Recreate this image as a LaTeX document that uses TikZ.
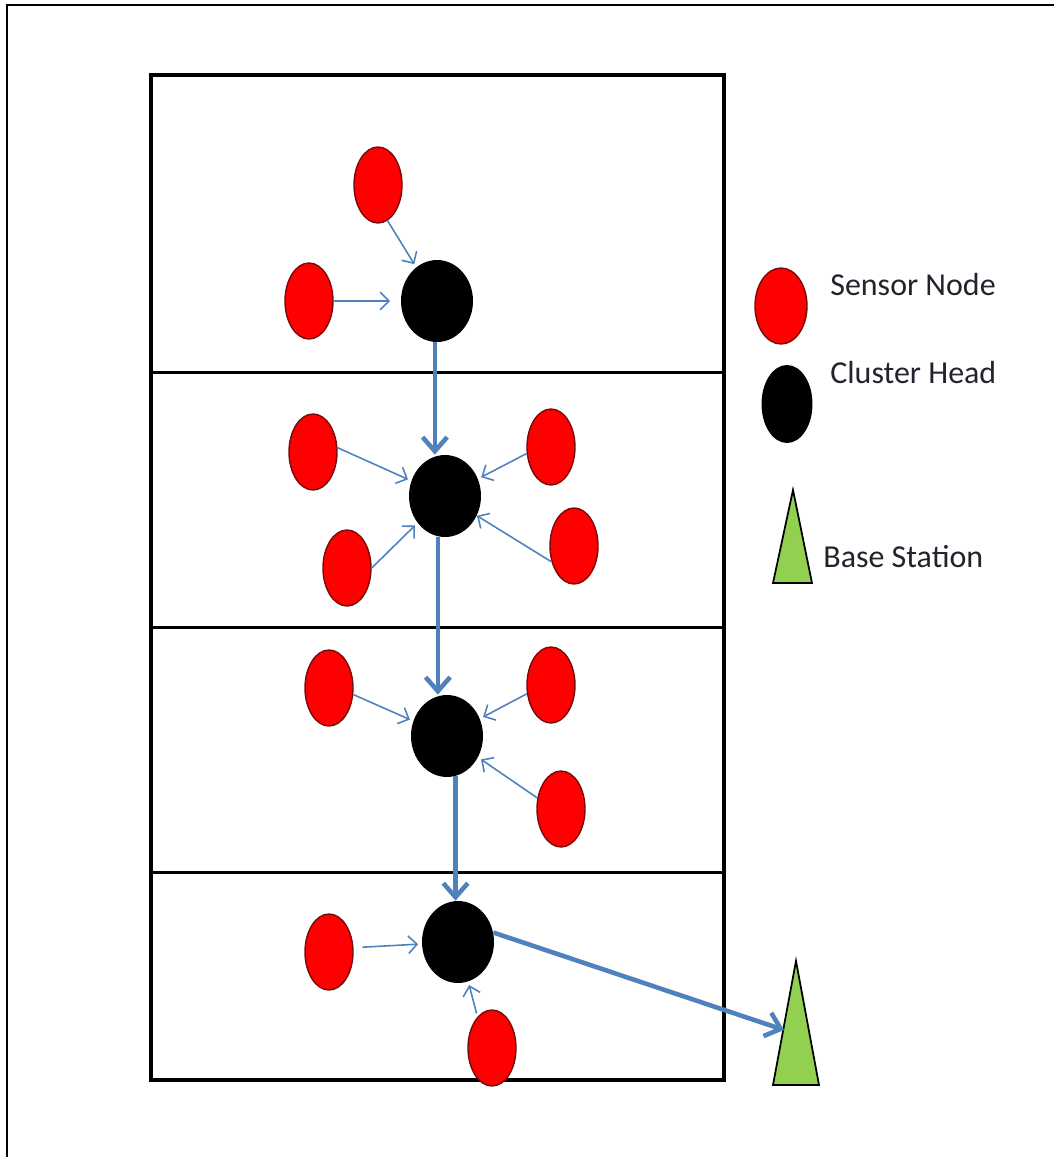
\documentclass[tikz,border=0pt]{standalone}
\usepackage{fontspec}
\setmainfont{Carlito}
\usetikzlibrary{shapes.geometric,arrows.meta}

\definecolor{sensorred}{RGB}{255,0,0}
\definecolor{sensorline}{RGB}{120,10,10}
\definecolor{linkblue}{RGB}{79,129,189}
\definecolor{stationgreen}{RGB}{146,208,80}
\definecolor{legendgray}{RGB}{35,35,45}

\tikzset{
	sensor/.style={ellipse, draw=sensorline, line width=0.8pt, fill=sensorred,
		inner sep=0pt, minimum width=0.96cm, minimum height=1.52cm},
	head/.style={ellipse, fill=black, inner sep=0pt,
		minimum width=1.44cm, minimum height=1.64cm},
	hop/.style={draw=linkblue, line width=0.9pt, shorten >=2pt,
		-{Straight Barb[length=5pt,width=10pt]}},
	relay/.style={draw=linkblue, line width=2.6pt,
		-{Straight Barb[length=8pt,width=14pt]}},
	station/.style={draw=black, line width=1pt, fill=stationgreen, line join=miter},
	legendtext/.style={anchor=west, inner sep=0pt, text=legendgray,
		font=\fontsize{18.2}{21}\selectfont}
}

\begin{document}
\begin{tikzpicture}[x=0.02cm,y=-0.02cm]
	\useasboundingbox (0,0) rectangle (1054,1157);
	% frame
	\draw[line width=1.2pt] (7,1157) -- (7,5) -- (1054,5);
	% field split in four zones
	\draw[line width=2.4pt] (151,75) rectangle (724,1080);
	\draw[line width=1.7pt] (151,372) -- (724,372);
	\draw[line width=1.7pt] (151,627) -- (724,627);
	\draw[line width=1.7pt] (151,872) -- (724,872);

	% zone 1
	\node[head] (ch1) at (437,301) {};
	\node[sensor] (a) at (378,185) {};
	\node[sensor] (b) at (309,301) {};
	% zone 2
	\node[head] (ch2) at (445,496) {};
	\node[sensor] (c) at (313,452) {};
	\node[sensor] (d) at (551,447) {};
	\node[sensor] (e) at (347,568) {};
	\node[sensor] (f) at (574,546) {};
	% zone 3
	\node[head] (ch3) at (447,736) {};
	\node[sensor] (g) at (329,688) {};
	\node[sensor] (h) at (551,685) {};
	\node[sensor] (i) at (561,809) {};
	% zone 4
	\node[head] (ch4) at (458,942) {};
	\node[sensor] (j) at (329,952) {};
	\node[sensor] (k) at (492,1048) {};

	% base station
	\draw[station] (773,1085) -- (796,961) -- (819,1085) -- cycle;
	\coordinate (bs) at (784,1030);

	% sensors to cluster heads
	\draw[hop] (a.-75) -- (ch1);
	\draw[hop, shorten >=6pt] (b.east) -- (ch1);
	\draw[hop] (c.10) -- (ch2);
	\draw[hop] (d.195) -- (ch2);
	\draw[hop] (e.east) -- (ch2);
	\draw[hop, shorten >=0pt] (f.215) -- (ch2);
	\draw[hop] (g.-15) -- (ch3);
	\draw[hop] (h.200) -- (ch3);
	\draw[hop] (i.155) -- (ch3);
	\draw[hop, shorten <=5pt] (j.10) -- (ch4);
	\draw[hop, shorten <=2pt] (k.115) -- (ch4);

	% cluster heads down to the base station
	\draw[relay] (ch1.-93) -- (ch1.-93 |- ch2.north);
	\draw[relay] (ch2.-100) -- (ch2.-100 |- ch3.north);
	\draw[relay] (ch3.-78) -- (ch3.-78 |- ch4.north);
	\draw[relay] (ch4.15) -- (bs);

	% legend
	\node[sensor, minimum width=1.04cm] (lsensor) at (781,306) {};
	\node[head, minimum width=1.02cm, minimum height=1.56cm] (lhead) at (787,404) {};
	\draw[station] (773,583) -- (793,490) -- (812,583) -- cycle;
	\node[legendtext] (tsensor) at (830,285) {Sensor Node};
	\node[legendtext] (thead) at (830,373) {Cluster Head};
	\node[legendtext] (tstation) at (823,557) {Base Station};
\end{tikzpicture}
\end{document}
